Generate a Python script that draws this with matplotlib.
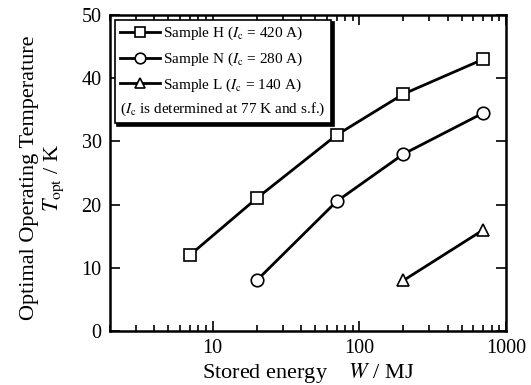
import matplotlib
matplotlib.use("Agg")
import matplotlib.pyplot as plt
from matplotlib.ticker import FixedLocator, LogLocator, NullFormatter

plt.rcParams['font.family'] = ['Liberation Serif', 'DejaVu Serif']
plt.rcParams['mathtext.fontset'] = 'stix'

# Stored energy (MJ) and optimal operating temperature (K) per sample
energy_H = [7, 20, 70, 200, 700]
temp_H = [12, 21, 31, 37.5, 43]
energy_N = [20, 70, 200, 700]
temp_N = [8, 20.5, 28, 34.5]
energy_L = [200, 700]
temp_L = [8, 16]

labels = [r"Sample H ($I_{\rm c}$ = 420 A)",
          r"Sample N ($I_{\rm c}$ = 280 A)",
          r"Sample L ($I_{\rm c}$ = 140 A)"]
note = r"($I_{\rm c}$ is determined at 77 K and s.f.)"
x_ticks = [10, 100, 1000]
x_ticklabels = ["10", "100", "1000"]
y_ticks = [0, 10, 20, 30, 40, 50]

fig = plt.figure(figsize=(5.31, 3.85), dpi=100)
ax = fig.add_axes([110 / 531, 1 - 331 / 385, 396 / 531, 316 / 385])

style = dict(color='black', lw=2, markerfacecolor='white',
             markeredgecolor='black', markeredgewidth=1.2, clip_on=False)
ax.plot(energy_H, temp_H, marker='s', ms=9, label=labels[0], **style)
ax.plot(energy_N, temp_N, marker='o', ms=9, label=labels[1], **style)
ax.plot(energy_L, temp_L, marker='^', ms=9, label=labels[2], **style)

ax.set_xscale('log')
ax.set_xlim(2, 1000)
ax.set_ylim(0, 50)
ax.xaxis.set_major_locator(FixedLocator(x_ticks))
ax.set_xticklabels(x_ticklabels)
ax.xaxis.set_minor_locator(LogLocator(base=10, subs=range(2, 10)))
ax.xaxis.set_minor_formatter(NullFormatter())
ax.set_yticks(y_ticks)

ax.tick_params(which='both', direction='in', top=True, right=True,
               labelsize=14.5, width=1.2)
ax.tick_params(which='major', length=7, pad=6)
ax.tick_params(which='minor', length=4)
for s in ax.spines.values():
    s.set_linewidth(1.8)

ax.set_xlabel(r"Stored energy    $W$ / MJ", fontsize=16, labelpad=2)
ax.set_ylabel("Optimal Operating Temperature\n" + r"$T_{\rm opt}$ / K",
              fontsize=16, linespacing=1.15)
ax.yaxis.set_label_coords(-0.11, 0.485)

leg = ax.legend(loc='upper left', fontsize=11, frameon=True, fancybox=False,
                edgecolor='black', framealpha=1, borderpad=0.35,
                handlelength=2.6, handletextpad=0.2, labelspacing=0.55,
                borderaxespad=0.3, markerscale=0.85,
                shadow={'color': 'black', 'alpha': 1, 'ox': 2, 'oy': -2})
leg.get_frame().set_linewidth(1.2)
leg.set_title(note, prop={'size': 11})
leg.set_alignment('left')
box = leg._legend_box
box._children = list(reversed(box._children))
box.sep = 5

fig.savefig("out.png", dpi=100)
